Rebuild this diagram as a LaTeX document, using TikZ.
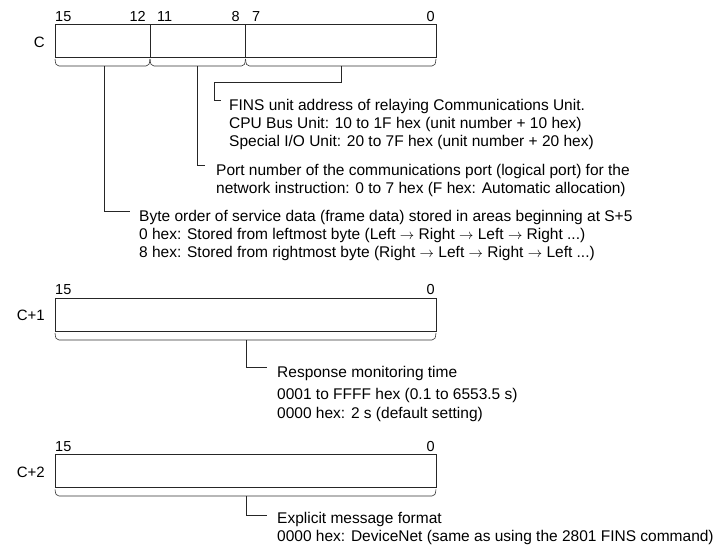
\documentclass[tikz,border=0pt]{standalone}
\usepackage{fontspec}
\setmainfont{Liberation Sans}
\tikzset{
  regbox/.style={draw=black!85, line width=1.3pt, inner sep=0pt, minimum width=381pt, minimum height=33pt, anchor=north west},
  divider/.style={draw=black!85, line width=0.8pt},
  bracestyle/.style={draw=black!80, line width=0.6pt},
  leader/.style={draw=black!85, line width=0.7pt},
  bitlbl/.style={inner sep=0pt, font=\fontsize{14.5}{17}\selectfont},
  reglbl/.style={inner sep=0pt, anchor=east, font=\fontsize{15}{17}\selectfont},
  desc/.style={inner sep=0pt, anchor=north west, align=left, font=\fontsize{15.5}{18}\selectfont}
}
\newcommand\brc[4]{\draw[bracestyle] (#1,#3) .. controls (#1+0.8,#4+1) .. (#1+4,#4) -- (#2-4,#4) .. controls (#2-0.8,#4+1) .. (#2,#3);}
\begin{document}
\begin{tikzpicture}[x=1pt,y=1pt]
\useasboundingbox (0,0) rectangle (726,-555);
% ---------- C ----------
\node[bitlbl, anchor=base west] (c15) at (55,-21) {15};
\node[bitlbl, anchor=base east] (c12) at (146,-21) {12};
\node[bitlbl, anchor=base west] (c11) at (157,-21) {11};
\node[bitlbl, anchor=base east] (c8) at (240,-21) {8};
\node[bitlbl, anchor=base west] (c7) at (252,-21) {7};
\node[bitlbl, anchor=base east] (c0) at (435,-21) {0};
\node[regbox] (boxC) at (55,-24) {};
\node[reglbl] (lblC) at (45,-42) {C};
\draw[divider] (150,-24) -- (150,-57);
\draw[divider] (245.5,-24) -- (245.5,-57);
\brc{55}{150}{-59}{-66}
\brc{150}{245.5}{-59}{-66}
\brc{245.5}{436}{-59}{-66}
\coordinate (b1) at (104,-66);
\coordinate (b2) at (197,-66);
\coordinate (b3) at (341.5,-66);
\coordinate (k3a) at (214,-82);
\coordinate (k3b) at (221,-100);
\coordinate (k2) at (205,-165);
\coordinate (k1) at (130,-211.5);
\draw[leader] (b3) |- (k3a) |- (k3b);
\draw[leader] (b2) |- (k2);
\draw[leader] (b1) |- (k1);
\node[desc] (tFins) at (229,-99) {FINS unit address of relaying Communications Unit.\\CPU Bus Unit: 10 to 1F hex (unit number + 10 hex)\\Special I/O Unit: 20 to 7F hex (unit number + 20 hex)};
\node[desc] (tPort) at (216,-164) {Port number of the communications port (logical port) for the\\network instruction: 0 to 7 hex (F hex: Automatic allocation)};
\node[desc] (tByte) at (139,-210.5) {Byte order of service data (frame data) stored in areas beginning at S+5\\0 hex: Stored from leftmost byte (Left $\rightarrow$ Right $\rightarrow$ Left $\rightarrow$ Right ...)\\8 hex: Stored from rightmost byte (Right $\rightarrow$ Left $\rightarrow$ Right $\rightarrow$ Left ...)};
% ---------- C+1 ----------
\node[bitlbl, anchor=base west] (d15) at (55,-294.5) {15};
\node[bitlbl, anchor=base east] (d0) at (435,-294.5) {0};
\node[regbox] (boxC1) at (55,-297.5) {};
\node[reglbl] (lblC1) at (45,-315.5) {C+1};
\brc{55}{436}{-333}{-340}
\coordinate (b4) at (246,-340);
\coordinate (k4) at (267,-367);
\draw[leader] (b4) |- (k4);
\node[desc, font=\fontsize{15.5}{19}\selectfont] (tResp) at (277,-366) {Response monitoring time\\[3pt]0001 to FFFF hex (0.1 to 6553.5 s)\\0000 hex: 2 s (default setting)};
% ---------- C+2 ----------
\node[bitlbl, anchor=base west] (e15) at (55,-451) {15};
\node[bitlbl, anchor=base east] (e0) at (435,-451) {0};
\node[regbox] (boxC2) at (55,-454) {};
\node[reglbl] (lblC2) at (45,-472) {C+2};
\brc{55}{436}{-489.5}{-496}
\coordinate (b5) at (246,-496);
\coordinate (k5) at (267,-515);
\draw[leader] (b5) |- (k5);
\node[desc] (tExpl) at (277,-512) {Explicit message format\\0000 hex: DeviceNet (same as using the 2801 FINS command)};
\end{tikzpicture}
\end{document}
